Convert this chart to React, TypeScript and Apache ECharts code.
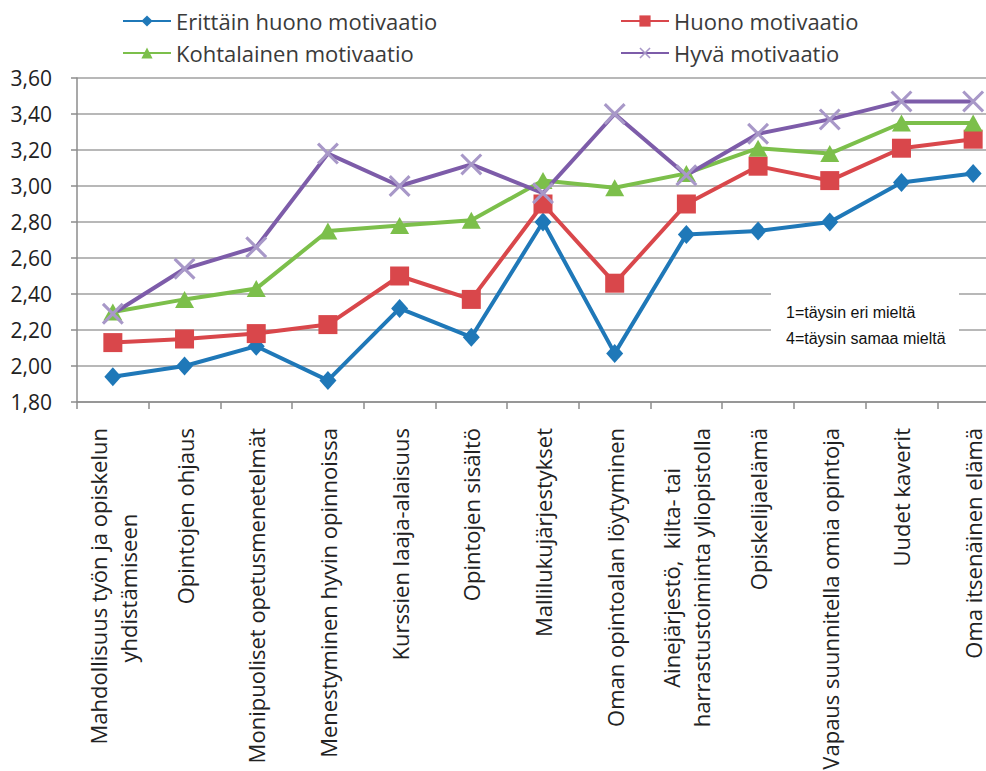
import React, { useEffect, useRef } from "react";
import * as echarts from "echarts";

const categories = [
  "Mahdollisuus työn ja opiskelun\nyhdistämiseen",
  "Opintojen ohjaus",
  "Monipuoliset opetusmenetelmät",
  "Menestyminen hyvin opinnoissa",
  "Kurssien laaja-alaisuus",
  "Opintojen sisältö",
  "Mallilukujärjestykset",
  "Oman opintoalan löytyminen",
  "Ainejärjestö,  kilta- tai\nharrastustoiminta yliopistolla",
  "Opiskelijaelämä",
  "Vapaus suunnitella omia opintoja",
  "Uudet kaverit",
  "Oma itsenäinen elämä",
];

const seriesNames = [
  "Erittäin huono motivaatio",
  "Huono motivaatio",
  "Kohtalainen motivaatio",
  "Hyvä motivaatio",
];

const erittainHuono = [1.94, 2.0, 2.11, 1.92, 2.32, 2.16, 2.8, 2.07, 2.73, 2.75, 2.8, 3.02, 3.07];
const huono = [2.13, 2.15, 2.18, 2.23, 2.5, 2.37, 2.9, 2.46, 2.9, 3.11, 3.03, 3.21, 3.26];
const kohtalainen = [2.3, 2.37, 2.43, 2.75, 2.78, 2.81, 3.03, 2.99, 3.07, 3.21, 3.18, 3.35, 3.35];
const hyva = [2.29, 2.54, 2.66, 3.18, 3.0, 3.12, 2.96, 3.4, 3.06, 3.29, 3.37, 3.47, 3.47];

const noteLines = ["1=täysin eri mieltä", "4=täysin samaa mieltä"];

const FONT = "'Open Sans', 'Noto Sans', sans-serif";
const XFONT_SIZE = 22;
const CROSS = "path://M0,1L1,0L10,9L9,10Z M9,0L10,1L1,10L0,9Z";

// centre shorter lines of a multi-line label (text is right-aligned when rotated)
function formatCategory(label: string): string {
  const lines = label.split("\n");
  if (lines.length < 2) return `{s|${label}}`;
  const ctx = document.createElement("canvas").getContext("2d");
  if (!ctx) return label;
  ctx.font = `${XFONT_SIZE}px 'Open Sans'`;
  const widths = lines.map((l) => ctx.measureText(l).width);
  const maxW = Math.max(...widths);
  const sp = ctx.measureText("\u00a0").width || 6;
  return lines
    .map((l, i) => l + "\u00a0".repeat(Math.round((maxW - widths[i]) / 2 / sp)))
    .join("\n");
}

export default function App() {
  const ref = useRef<HTMLDivElement>(null);
  useEffect(() => {
    if (!ref.current) return;
    const chart = echarts.init(ref.current, undefined, { renderer: "svg" });
    const mk = (
      name: string,
      data: number[],
      color: string,
      symbol: string,
      size: number | number[],
      markerColor?: string
    ) => ({
      name,
      type: "line",
      data,
      symbol,
      symbolSize: size,
      showAllSymbol: true,
      lineStyle: { color, width: 4 },
      itemStyle: { color: markerColor || color, borderWidth: 0 },
      z: 3,
    });
    const legendText = { fontFamily: FONT, fontSize: 22, color: "#3a3a3a" };
    chart.setOption({
      animation: false,
      color: ["#1f78b8", "#d9474b", "#7cbf4b", "#7d5ca9"],
      legend: [
        {
          orient: "vertical",
          left: 117,
          top: 5,
          itemWidth: 48,
          itemHeight: 14,
          itemGap: 10,
          data: [seriesNames[0], seriesNames[2]],
          textStyle: legendText,
        },
        {
          orient: "vertical",
          left: 615,
          top: 5,
          itemWidth: 48,
          itemHeight: 14,
          itemGap: 10,
          data: [seriesNames[1], seriesNames[3]],
          textStyle: legendText,
        },
      ],
      grid: {
        left: 77,
        top: 78,
        width: 932,
        height: 324,
        containLabel: false,
        outerBoundsMode: "none",
      },
      xAxis: {
        type: "category",
        data: categories,
        boundaryGap: true,
        axisLine: { lineStyle: { color: "#8c8c8c", width: 1.5 } },
        axisTick: { show: true, length: 7, lineStyle: { color: "#8c8c8c", width: 1.5 } },
        axisLabel: {
          interval: 0,
          rotate: 90,
          margin: 26,
          color: "#222",
          fontFamily: FONT,
          fontSize: XFONT_SIZE,
          lineHeight: 30,
          formatter: (v: string) => formatCategory(v),
          rich: {
            s: { fontFamily: FONT, fontSize: XFONT_SIZE, lineHeight: 22, color: "#222" },
          },
        },
      },
      yAxis: {
        type: "value",
        min: 1.8,
        max: 3.6,
        interval: 0.2,
        axisLine: { show: true, lineStyle: { color: "#8c8c8c", width: 1.5 } },
        axisTick: { show: true, length: 6, lineStyle: { color: "#8c8c8c", width: 1.5 } },
        splitLine: { lineStyle: { color: "#a0a0a0", width: 1.5 } },
        axisLabel: {
          margin: 25,
          color: "#222",
          fontFamily: FONT,
          fontSize: 21,
          formatter: (v: number) => v.toFixed(2).replace(".", ","),
        },
      },
      series: [
        mk(seriesNames[0], erittainHuono, "#1f78b8", "diamond", [17, 19]),
        mk(seriesNames[1], huono, "#d9474b", "rect", 19),
        mk(seriesNames[2], kohtalainen, "#7cbf4b", "triangle", [19, 17]),
        mk(seriesNames[3], hyva, "#7d5ca9", CROSS, 22, "#a898c8"),
      ],
      graphic: [
        {
          type: "group",
          left: 771,
          top: 289,
          children: [
            { type: "rect", shape: { x: 0, y: 0, width: 188, height: 65 }, style: { fill: "#fff" }, z: 10 },
            {
              type: "text",
              x: 15,
              y: 23,
              z: 11,
              style: {
                text: noteLines[0],
                fill: "#111",
                font: "16px 'Liberation Sans Narrow', 'Liberation Sans', sans-serif",
                verticalAlign: "middle",
              },
            },
            {
              type: "text",
              x: 15,
              y: 49,
              z: 11,
              style: {
                text: noteLines[1],
                fill: "#111",
                font: "16px 'Liberation Sans Narrow', 'Liberation Sans', sans-serif",
                verticalAlign: "middle",
              },
            },
          ],
        },
      ],
    });
    return () => chart.dispose();
  }, []);
  return (
    <div
      style={{
        position: "fixed",
        left: 0,
        top: 0,
        width: 986,
        height: 771,
        overflow: "hidden",
        background: "#fff",
      }}
    >
      <div ref={ref} style={{ width: 986, height: 771 }} />
    </div>
  );
}
